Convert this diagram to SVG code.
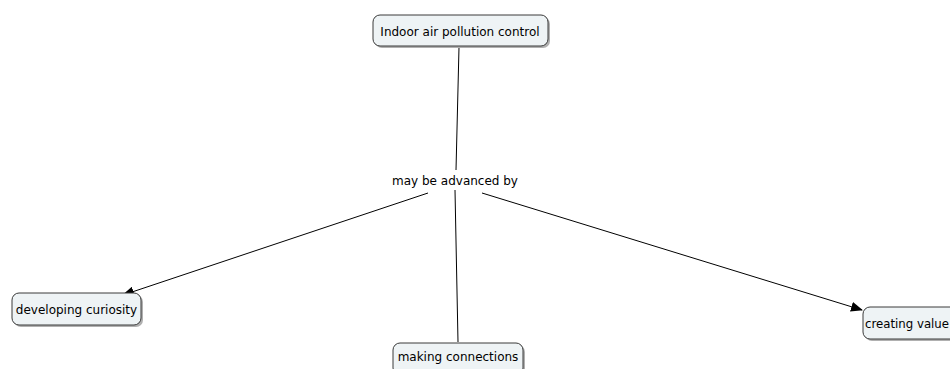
<svg xmlns="http://www.w3.org/2000/svg" width="950" height="369" viewBox="0 0 950 369">
<defs>
<style>
.box{fill:#eef3f5;stroke:#3a3a3a;stroke-width:1}
.sh{fill:#b0b0b0}
.t{font-family:"DejaVu Sans",Verdana,sans-serif;font-size:12px;fill:#000;text-anchor:middle}
.c{stroke:#000;stroke-width:1;fill:none}
</style>
<marker id="ah" markerWidth="12" markerHeight="10" refX="11" refY="5" orient="auto" markerUnits="userSpaceOnUse">
<path d="M0,0 L12,5 L0,10 Z" fill="#000"/>
</marker>
</defs>
<rect width="950" height="369" fill="#fff"/>
<g id="connectors">
<line class="c" x1="459" y1="47" x2="456" y2="170"/>
<line class="c" x1="455" y1="190" x2="458" y2="342"/>
<line class="c" x1="428" y1="193" x2="123" y2="295" marker-end="url(#ah)"/>
<line class="c" x1="482" y1="193" x2="862" y2="310" marker-end="url(#ah)"/>
</g>
<g id="label">
<text class="t" x="455" y="185">may be advanced by</text>
</g>
<g id="n1">
<rect class="sh" x="375" y="17" width="175" height="31" rx="7"/>
<rect class="box" x="373" y="15" width="175" height="31" rx="7"/>
<text class="t" x="460" y="35.5">Indoor air pollution control</text>
</g>
<g id="n2">
<rect class="sh" x="14" y="295" width="129" height="32" rx="7"/>
<rect class="box" x="12" y="293" width="129" height="32" rx="7"/>
<text class="t" x="76.5" y="314">developing curiosity</text>
</g>
<g id="n3">
<rect class="sh" x="395" y="345" width="130" height="32" rx="7"/>
<rect class="box" x="393" y="343" width="130" height="32" rx="7"/>
<text class="t" x="458" y="361">making connections</text>
</g>
<g id="n4">
<rect class="sh" x="865" y="309" width="100" height="32" rx="7"/>
<rect class="box" x="863" y="307" width="100" height="32" rx="7"/>
<text class="t" x="865" y="328" style="text-anchor:start" textLength="84" lengthAdjust="spacingAndGlyphs">creating value</text>
</g>
</svg>
